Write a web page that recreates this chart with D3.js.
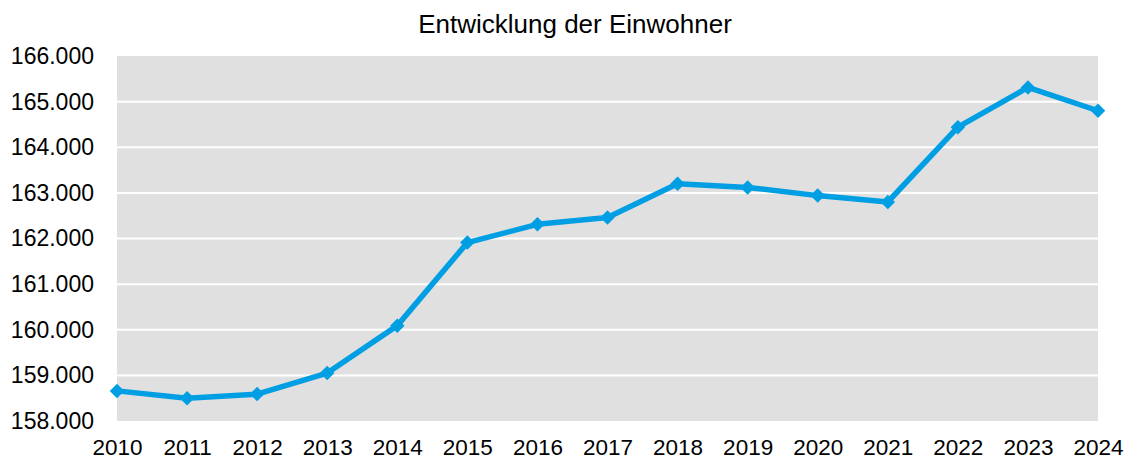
<!DOCTYPE html>
<html><head><meta charset="utf-8">
<script src="https://cdn.jsdelivr.net/npm/d3@7"></script>
<style>body{margin:0;background:#fff}svg{display:block}text{font-family:"Liberation Sans",Arial,sans-serif;fill:#000}</style>
</head><body>
<svg id="c" width="1132" height="461"></svg>
<script>
const years = [2010,2011,2012,2013,2014,2015,2016,2017,2018,2019,2020,2021,2022,2023,2024];
const einwohner = [158660,158500,158590,159050,160090,161910,162310,162460,163200,163120,162940,162800,164440,165310,164800];
const yTicks = [158000,159000,160000,161000,162000,163000,164000,165000,166000];
const title = "Entwicklung der Einwohner";

const svg = d3.select("#c");
const L = 117, R = 1098, T = 56, B = 421;
const x = d3.scaleLinear().domain([2010,2024]).range([L,R]);
const y = d3.scaleLinear().domain([158000,166000]).range([B,T]);
const fmt = d => d3.format(",")(d).replace(/,/g,".");

svg.append("rect").attr("x",L).attr("y",T).attr("width",R-L).attr("height",B-T).attr("fill","#e0e0e0");

svg.append("g").selectAll("line").data(yTicks.slice(1,-1)).join("line")
  .attr("x1",L).attr("x2",R).attr("y1",d=>y(d)).attr("y2",d=>y(d))
  .attr("stroke","#fff").attr("stroke-width",2);

const ya = svg.append("g").attr("transform",`translate(${L},0)`)
  .call(d3.axisLeft(y).tickValues(yTicks).tickFormat(fmt).tickSize(0).tickPadding(23));
ya.select(".domain").remove();
ya.selectAll("text").attr("font-size",23).attr("font-family","Liberation Sans, Arial, sans-serif").attr("fill","#000");

const xa = svg.append("g").attr("transform",`translate(0,${B})`)
  .call(d3.axisBottom(x).tickValues(years).tickFormat(d3.format("d")).tickSize(0).tickPadding(18));
xa.select(".domain").remove();
xa.selectAll("text").attr("font-size",22.5).attr("font-family","Liberation Sans, Arial, sans-serif").attr("fill","#000");

const line = d3.line().x((d,i)=>x(years[i])).y(d=>y(d));
svg.append("path").datum(einwohner).attr("d",line).attr("fill","none")
  .attr("stroke","#009fe3").attr("stroke-width",5.5).attr("stroke-linejoin","round");

svg.append("g").selectAll("path").data(einwohner).join("path")
  .attr("d", d3.symbol().type(d3.symbolSquare).size(105))
  .attr("transform",(d,i)=>`translate(${x(years[i])},${y(d)}) rotate(45)`)
  .attr("fill","#009fe3");

svg.append("text").attr("x",575).attr("y",33).attr("text-anchor","middle")
  .attr("font-size",26).text(title);
</script>
</body></html>
